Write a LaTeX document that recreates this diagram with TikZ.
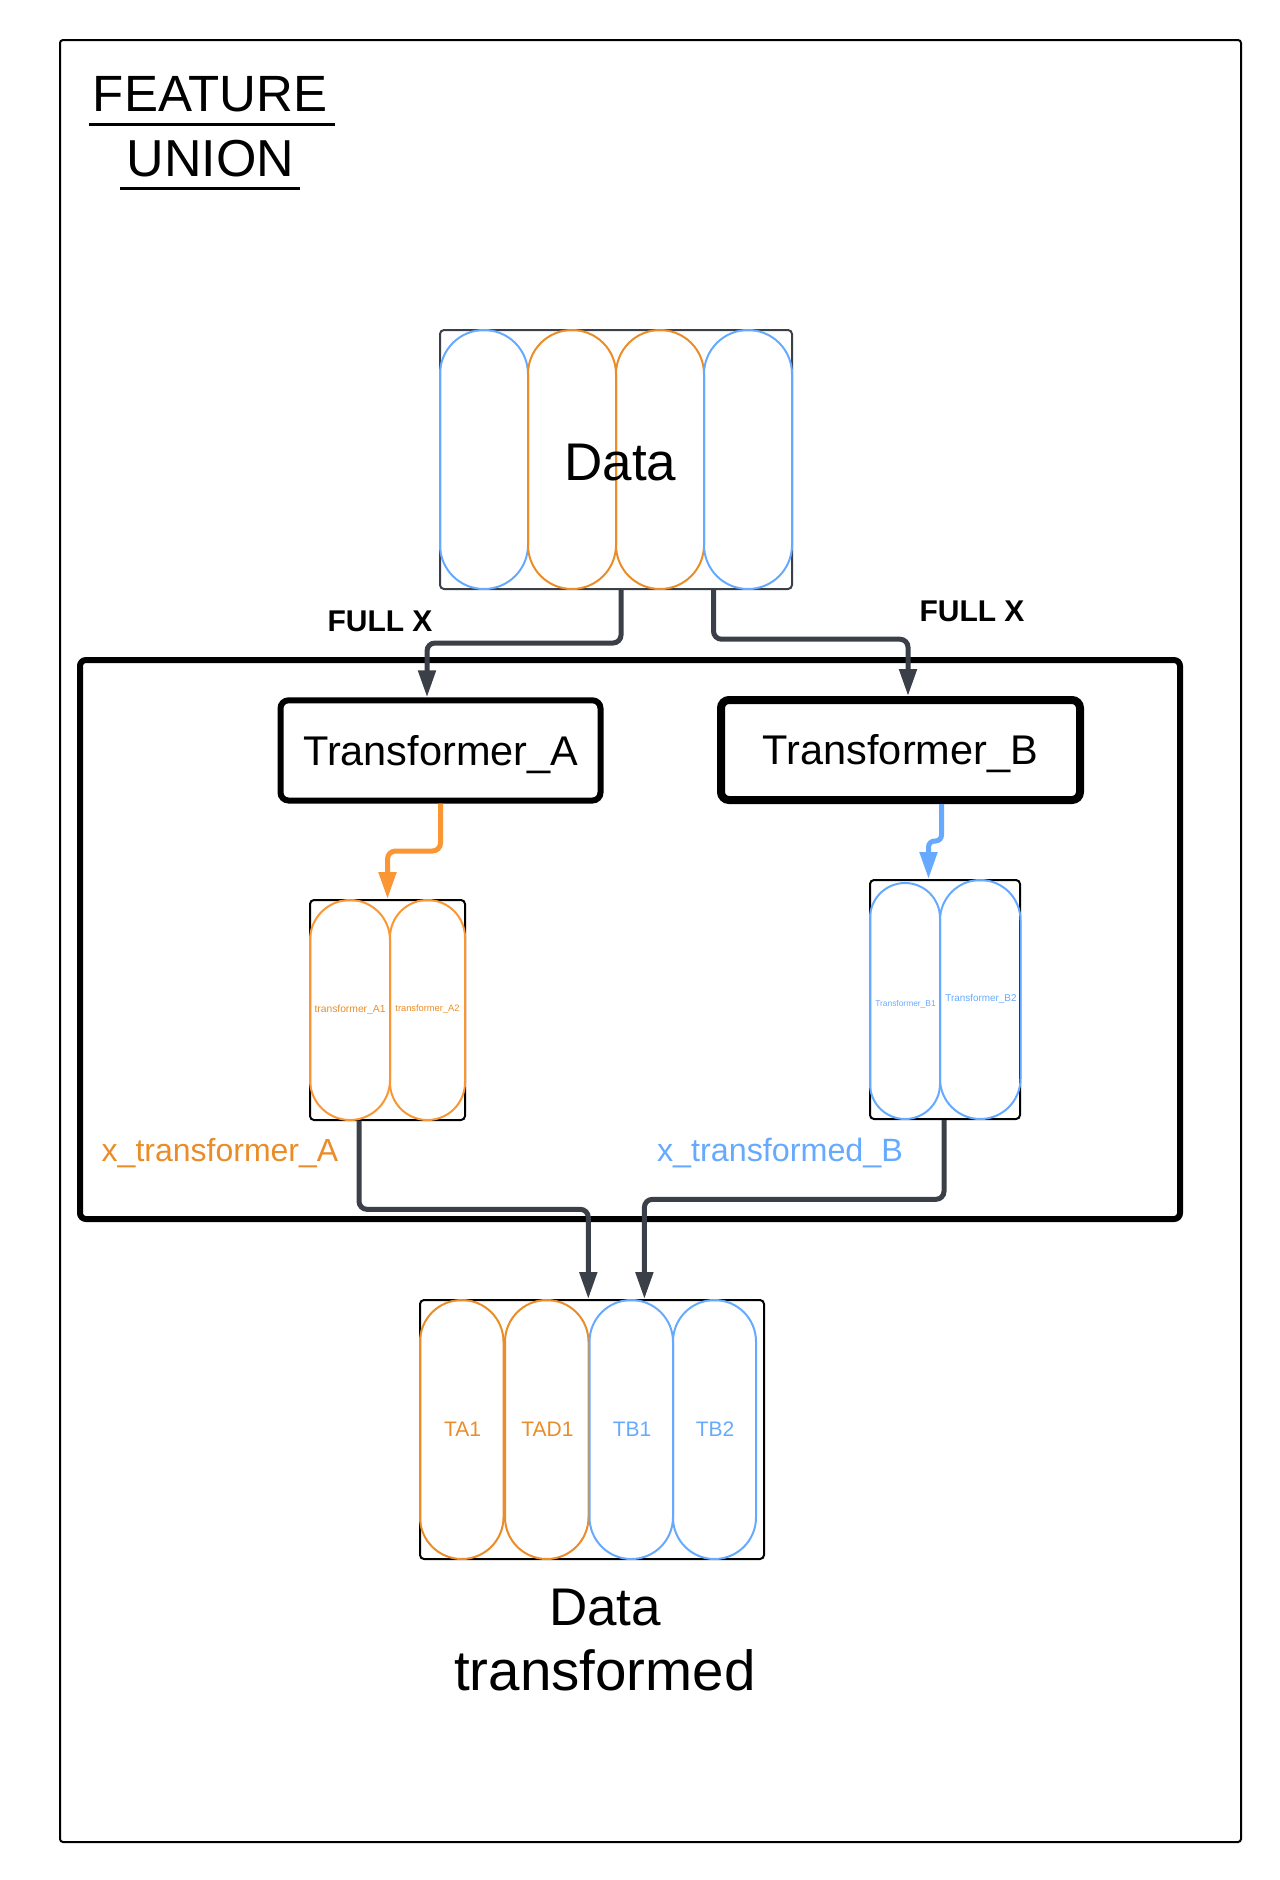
\documentclass[tikz,border=0pt]{standalone}
\usepackage{fontspec}
\setmainfont{Liberation Sans}
\usetikzlibrary{arrows.meta,calc}
\definecolor{dk}{RGB}{59,64,72}
\definecolor{orC}{RGB}{234,140,40}
\definecolor{orA}{RGB}{250,150,52}
\definecolor{blC}{RGB}{102,170,255}
\newcommand{\capsl}[5]{\pgfmathsetmacro{\caprad}{(#4-#2)/2}\draw[#1, line width=2pt, rounded corners=\caprad pt] (#2,#3) rectangle (#4,#5);}
\newcommand{\fs}[1]{\fontsize{#1}{#1}\selectfont}
\begin{document}
\begin{tikzpicture}[x=1pt,y=-1pt,
  box/.style={draw, inner sep=0pt, rectangle},
  txt/.style={anchor=base, inner sep=0pt},
  tip/.style={-{Triangle[length=27pt,width=17pt]}},
  conn/.style={draw=dk, line width=5pt, rounded corners=8pt, tip},
  oconn/.style={draw=orA, line width=5pt, rounded corners=8pt, tip},
  bconn/.style={draw=blC, line width=5pt, rounded corners=6pt, tip}]
\useasboundingbox (0,0) rectangle (1280,1880);
% outer frame
\node[box, line width=2pt, rounded corners=3pt, minimum width=1181pt, minimum height=1802pt] (frame) at (650.5,941) {};
% title
\node[txt, font=\fs{51}] (title1) at (210,111.7) {FEATURE};
\node[txt, font=\fs{52}] (title2) at (210.5,176.7) {UNION};
\draw[line width=3pt] (89,124) -- (335,124);
\draw[line width=3pt] (120,188.7) -- (300,188.7);
% data box
\node[box, draw=dk, line width=2pt, rounded corners=4pt, minimum width=352pt, minimum height=259pt] (data) at (616,459.5) {};
\capsl{blC}{440}{330}{528}{589}
\capsl{orC}{528}{330}{616}{589}
\capsl{orC}{616}{330}{704}{589}
\capsl{blC}{704}{330}{792}{589}
\node[txt, font=\fs{53}] (datatxt) at (620.5,480) {Data};
% container
\node[box, line width=6pt, rounded corners=6pt, minimum width=1100pt, minimum height=559pt] (union) at (630,939.5) {};
% transformers
\node[box, line width=6pt, rounded corners=8pt, minimum width=320pt, minimum height=100.2pt] (tA) at (440.5,750.4) {};
\node[txt, font=\fs{41.5}] (tAtxt) at (440.8,765.7) {Transformer\_A};
\node[box, line width=8pt, rounded corners=8pt, minimum width=359pt, minimum height=100pt] (tB) at (900.5,750) {};
\node[txt, font=\fs{41.5}] (tBtxt) at (900.5,764.3) {Transformer\_B};
% FULL X labels
\node[txt, font=\bfseries\fs{30}] (fxA) at (380,631.7) {FULL X};
\node[txt, font=\bfseries\fs{30}] (fxB) at (972,621.7) {FULL X};
% small boxes
\node[box, line width=2pt, rounded corners=4pt, minimum width=155pt, minimum height=220pt] (oA) at (387.5,1010) {};
\capsl{orA}{310}{900}{390}{1120}
\capsl{orA}{390}{900}{465}{1120}
\node[txt, text=orC, font=\fs{10.3}] (a1) at (350,1012.5) {transformer\_A1};
\node[txt, text=orC, font=\fs{9.3}] (a2) at (427.5,1011.3) {transformer\_A2};
\node[box, line width=2pt, rounded corners=4pt, minimum width=150pt, minimum height=239pt] (oB) at (945,999.5) {};
\capsl{blC}{870}{883}{940}{1119}
\capsl{blC}{940}{880}{1020.5}{1119}
\node[txt, text=blC, font=\fs{8.4}] (b1) at (905.5,1006) {Transformer\_B1};
\node[txt, text=blC, font=\fs{9.9}] (b2) at (981,1001.5) {Transformer\_B2};
\node[txt, text=orC, font=\fs{32}] (xA) at (220,1161.7) {x\_transformer\_A};
\node[txt, text=blC, font=\fs{32.3}] (xB) at (780,1161.7) {x\_transformed\_B};
% output box
\node[box, line width=2pt, rounded corners=4pt, minimum width=344pt, minimum height=259pt] (out) at (592,1429.5) {};
\capsl{orC}{420}{1300}{503.5}{1559}
\capsl{orC}{505}{1300}{588.5}{1559}
\capsl{blC}{589.5}{1300}{673}{1559}
\capsl{blC}{673}{1300}{756}{1559}
\node[txt, text=orC, font=\fs{21}] (c1) at (462.5,1436) {TA1};
\node[txt, text=orC, font=\fs{21}] (c2) at (547.5,1436) {TAD1};
\node[txt, text=blC, font=\fs{21}] (c3) at (632,1436) {TB1};
\node[txt, text=blC, font=\fs{21}] (c4) at (715,1436) {TB2};
\node[txt, font=\fs{53}] (dt1) at (605,1625) {Data};
\node[txt, font=\fs{56.5}] (dt2) at (605,1690) {transformed};
% connectors
\draw[conn] ([xshift=5pt]data.south) -- ++(0,53) -| ([xshift=-13.5pt]tA.north);
\draw[conn] ([xshift=97.5pt]data.south) -- ++(0,49.2) -| ([xshift=7.5pt]tB.north);
\draw[oconn] (tA.south) -- ++(0,47.5) -| (oA.north);
\draw[bconn] ([xshift=41pt]tB.south) -- ++(0,37) -| ([xshift=-16.5pt]oB.north);
\draw[conn] ([xshift=-28.5pt]oA.south) -- ++(0,88.3) -| ([xshift=-3.7pt]out.north);
\draw[conn] ([xshift=-1pt]oB.south) -- ++(0,79.3) -| ([xshift=52.4pt]out.north);
\end{tikzpicture}
\end{document}
